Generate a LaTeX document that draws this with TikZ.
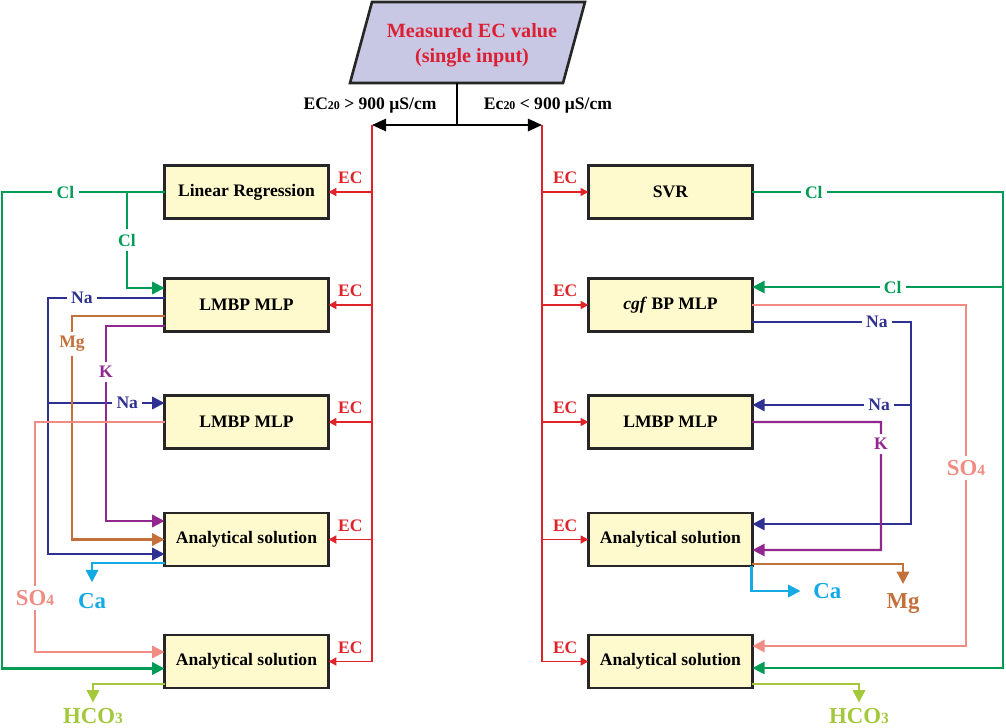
\documentclass[tikz,border=0pt]{standalone}
\usepackage{fontspec}
\setmainfont{Liberation Serif}
\usetikzlibrary{arrows.meta}
\usetikzlibrary{positioning}
\usetikzlibrary{calc}

\definecolor{boxfill}{RGB}{255,250,205}
\definecolor{measfill}{RGB}{201,200,228}
\definecolor{measred}{RGB}{220,32,52}
\definecolor{ecred}{RGB}{222,36,40}
\definecolor{clgreen}{RGB}{0,155,85}
\definecolor{nablue}{RGB}{46,49,146}
\definecolor{mgbrown}{RGB}{196,112,58}
\definecolor{kpurple}{RGB}{146,39,143}
\definecolor{sopink}{RGB}{240,140,130}
\definecolor{cablue}{RGB}{20,170,228}
\definecolor{hcgreen}{RGB}{163,200,60}

\newcommand{\idx}[1]{{\fontsize{0.68em}{1em}\selectfont #1}}

\begin{document}
\begin{tikzpicture}[x=0.02cm,y=-0.02cm,thick,
    box/.style={draw=black!85,line width=1.5pt,fill=boxfill,minimum width=3.28cm,
                minimum height=1.06cm,inner sep=0pt,outer sep=0pt,font=\bfseries},
    wire/.style={line width=1.3pt,-{Triangle[length=7pt,width=7pt]}},
    ec/.style={ecred,line width=1.1pt,-{Triangle[length=4.5pt,width=4.5pt]}},
    eclbl/.style={above=3pt,inner sep=1pt,text=ecred,font=\bfseries},
    lbl/.style={fill=white,inner sep=2.5pt,text=#1,font=\bfseries},
    biglbl/.style={fill=white,inner sep=2.5pt,text=#1,font=\fontsize{13}{15}\bfseries\selectfont},
    big/.style={inner sep=1pt,text=#1,font=\fontsize{13}{15}\bfseries\selectfont}]

  \useasboundingbox (0,0) rectangle (1006,727);

  % input
  \draw[draw=black!85,line width=1.5pt,fill=measfill]
    (350,83) -- (372,2) -- (585,2) -- (563,83) -- cycle;
  \node[align=center,text=measred,font=\fontsize{11.5}{14}\bfseries\selectfont] (meas) at (472,45)
    {Measured EC value\\(single input)};
  \coordinate (stem) at (457,83);
  \coordinate (fork) at (457,125);
  \coordinate (ltop) at (372,125);
  \coordinate (rtop) at (542,125);
  \node[font=\bfseries] (condL) at (370,106) {EC\idx{20} > 900 μS/cm};
  \node[font=\bfseries] (condR) at (548,106) {Ec\idx{20} < 900 μS/cm};
  \draw[line width=1.1pt] (stem) -- (fork);
  \draw[line width=1.1pt,{Triangle[length=8pt,width=7pt]}-{Triangle[length=8pt,width=7pt]}] (ltop) -- (rtop);

  % left column
  \node[box] (lr) at (246.5,192) {Linear Regression};
  \node[box] (lmbpA) at (246.5,305) {LMBP MLP};
  \node[box] (lmbpB) at (246.5,422) {LMBP MLP};
  \node[box] (anaA) at (246.5,539.5) {Analytical solution};
  \node[box] (anaB) at (246.5,661.5) {Analytical solution};

  % right column
  \node[box] (svr) [right=5.2cm of lr] {SVR};
  \node[box] (cgf) [right=5.2cm of lmbpA] {\textit{cgf} BP MLP};
  \node[box] (lmbpR) [right=5.2cm of lmbpB] {LMBP MLP};
  \node[box] (anaRA) [right=5.2cm of anaA] {Analytical solution};
  \node[box] (anaRB) [right=5.2cm of anaB] {Analytical solution};

  \node[big=cablue,anchor=north] (caL) at (92,591) {Ca};
  \node[big=hcgreen,anchor=north] (hcL) at (93,706) {HCO\idx{3}};
  \node[big=mgbrown,anchor=north] (mgR) at (903,591) {Mg};
  \node[big=cablue,anchor=west] (caR) at (811,591) {Ca};
  \node[big=hcgreen,anchor=north] (hcR) at (859,706) {HCO\idx{3}};

  % EC feeds
  \draw[ec] (ltop |- lr.east) -- node[eclbl]{EC} (lr.east);
  \draw[ec] (ltop |- lmbpA.east) -- node[eclbl]{EC} (lmbpA.east);
  \draw[ec] (ltop |- lmbpB.east) -- node[eclbl]{EC} (lmbpB.east);
  \draw[ec] (ltop |- anaA.east) -- node[eclbl]{EC} (anaA.east);
  \draw[ec] (ltop) |- node[eclbl,pos=0.75]{EC} (anaB.east);
  \draw[ec] (rtop |- svr.west) -- node[eclbl]{EC} (svr.west);
  \draw[ec] (rtop |- cgf.west) -- node[eclbl]{EC} (cgf.west);
  \draw[ec] (rtop |- lmbpR.west) -- node[eclbl]{EC} (lmbpR.west);
  \draw[ec] (rtop |- anaRA.west) -- node[eclbl]{EC} (anaRA.west);
  \draw[ec] (rtop) |- node[eclbl,pos=0.75]{EC} (anaRB.west);

  % left branch
  \draw[wire,clgreen] (lr.west) -- node[lbl=clgreen,pos=0.61]{Cl} ++(-162.5,0) |- ($(anaB.west)+(0,7)$);
  \draw[wire,clgreen] ($(lr.west)+(-37.5,0)$) |- node[lbl=clgreen,pos=0.25]{Cl} ($(lmbpA.west)+(0,-17)$);
  \draw[wire,nablue] ($(lmbpA.west)+(0,-7)$) -- node[lbl=nablue,pos=0.71]{Na} ++(-116.5,0) |- ($(anaA.west)+(0,14.5)$);
  \draw[wire,nablue] ($(lmbpA.west)+(-116.5,98)$) -- node[lbl=nablue,pos=0.68]{Na} ($(lmbpB.west)+(0,-19)$);
  \draw[wire,mgbrown] ($(lmbpA.west)+(0,11)$) -- ++(-92.5,0) -- node[lbl=mgbrown,pos=0.125]{Mg} ++(0,223.5) -- (anaA.west);
  \draw[wire,kpurple] ($(lmbpA.west)+(0,21)$) -- ++(-58.5,0) -- node[lbl=kpurple,pos=0.236]{K} ++(0,195) -- ($(anaA.west)+(0,-18.5)$);
  \draw[wire,sopink] (lmbpB.west) -- ++(-129.5,0) -- node[biglbl=sopink,pos=0.765]{SO\idx{4}} ++(0,230) -- ($(anaB.west)+(0,-9.5)$);
  \draw[wire,cablue,shorten >=5pt] ($(anaA.west)+(0,23.5)$) -| (caL.north);
  \draw[wire,hcgreen,shorten >=2pt] ($(anaB.west)+(0,22.5)$) -| (hcL.north);

  % right branch
  \draw[wire,clgreen] (svr.east) -- node[lbl=clgreen,pos=0.245]{Cl} ++(250.5,0) |- ($(anaRB.east)+(0,6.5)$);
  \draw[wire,clgreen] ($(cgf.east)+(250.5,-18)$) -- node[lbl=clgreen,pos=0.44]{Cl} ($(cgf.east)+(0,-18)$);
  \draw[wire,sopink] (cgf.east) -- ++(213.5,0) -- node[biglbl=sopink,pos=0.478]{SO\idx{4}} ++(0,341) -- ($(anaRB.east)+(0,-15.5)$);
  \draw[wire,nablue] ($(cgf.east)+(0,17)$) -- node[lbl=nablue,pos=0.785]{Na} ++(158.5,0) |- ($(anaRA.east)+(0,-15.5)$);
  \draw[wire,nablue] ($(cgf.east)+(158.5,100)$) -- node[lbl=nablue,pos=0.2]{Na} ($(lmbpR.east)+(0,-17)$);
  \draw[wire,kpurple] (lmbpR.east) -- ++(128.5,0) -- node[lbl=kpurple,pos=0.17]{K} ++(0,128) -- ($(anaRA.east)+(0,10.5)$);
  \draw[wire,mgbrown,shorten >=4pt] ($(anaRA.east)+(0,24.5)$) -| (mgR.north);
  \draw[wire,cablue,shorten >=6pt] ($(anaRA.south east)+(-1,0)$) |- (caR.west);
  \draw[wire,hcgreen,shorten >=2pt] ($(anaRB.east)+(0,22.5)$) -| (hcR.north);
\end{tikzpicture}
\end{document}
